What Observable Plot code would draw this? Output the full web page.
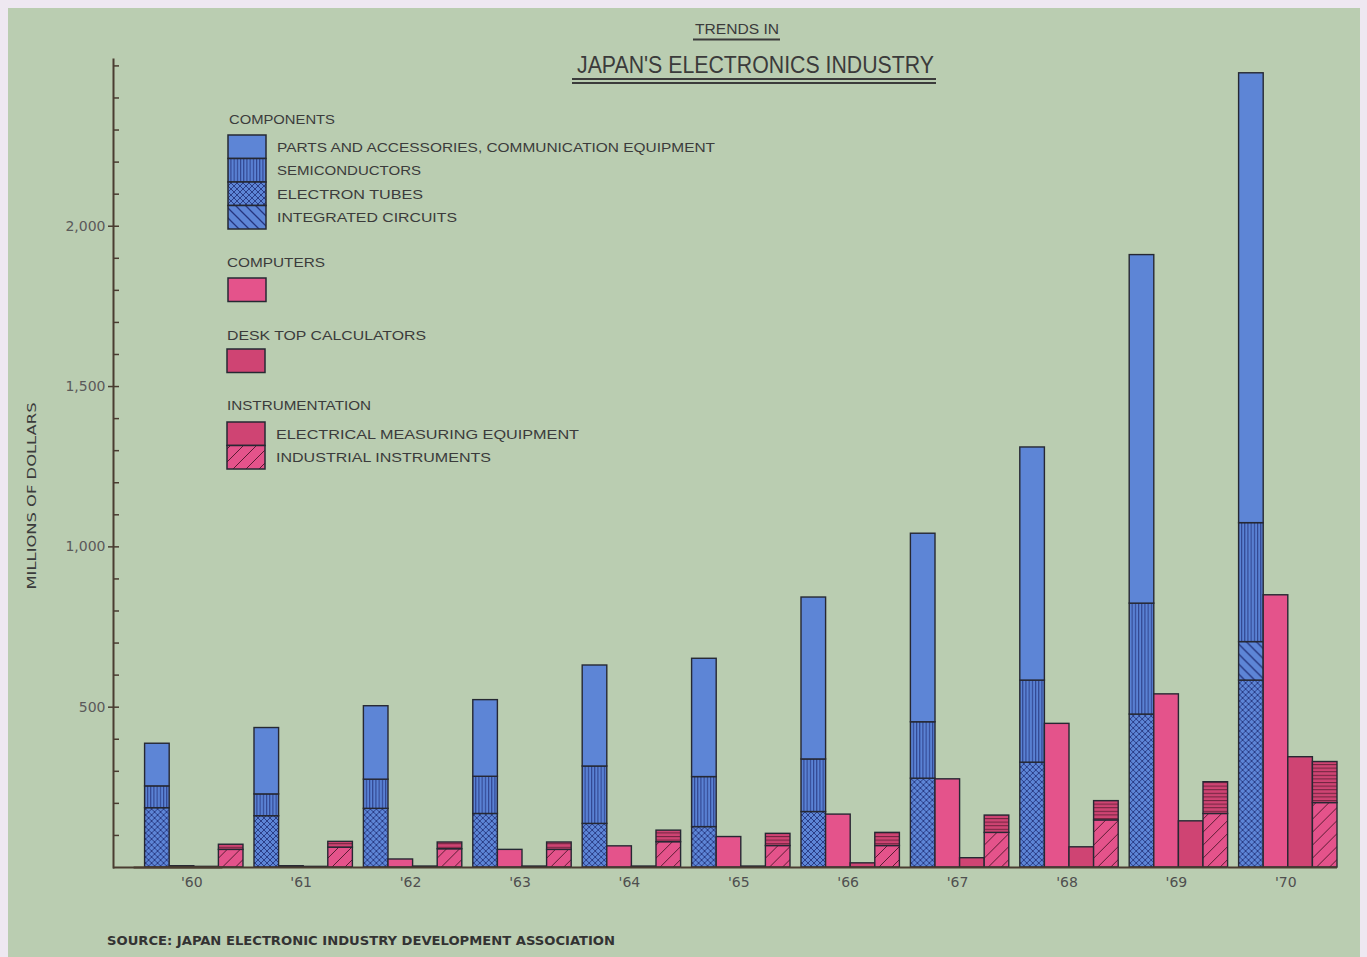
<!DOCTYPE html>
<html>
<head>
<meta charset="utf-8">
<script src="https://cdn.jsdelivr.net/npm/d3@7"></script>
<script src="https://cdn.jsdelivr.net/npm/@observablehq/plot@0.6"></script>
<style>
html, body { margin: 0; padding: 0; background: #eee8f1; }
body { width: 1367px; height: 957px; position: relative; overflow: hidden; }
#panel { position: absolute; left: 8px; top: 8px; width: 1352px; height: 949px; background: #bacdb1; }
#chart { position: absolute; left: 8px; top: 8px; }
#overlay { position: absolute; left: 0; top: 0; pointer-events: none; }
</style>
</head>
<body>
<div id="panel"></div>
<div id="chart"></div>
<svg id="defs" width="0" height="0" style="position:absolute">
  <defs>
    <pattern id="pSemi" patternUnits="userSpaceOnUse" width="3.2" height="10">
      <rect width="3.2" height="10" fill="#5a82d4"/>
      <line x1="0.6" y1="0" x2="0.6" y2="10" stroke="#26357e" stroke-width="0.9"/>
    </pattern>
    <pattern id="pTube" patternUnits="userSpaceOnUse" width="6" height="6">
      <rect width="6" height="6" fill="#5d85d6"/>
      <path d="M0,0 L6,6 M6,0 L0,6" stroke="#26357e" stroke-width="0.9"/>
    </pattern>
    <pattern id="pIC" patternUnits="userSpaceOnUse" width="10" height="10">
      <rect width="10" height="10" fill="#5d85d6"/>
      <path d="M0,0 L10,10 M-2,8 L2,12 M8,-2 L12,2" stroke="#26357e" stroke-width="1.3"/>
    </pattern>
    <pattern id="pElec" patternUnits="userSpaceOnUse" width="10" height="3.6">
      <rect width="10" height="3.6" fill="#cf4473"/>
      <line x1="0" y1="0.6" x2="10" y2="0.6" stroke="#5a1c33" stroke-width="0.9"/>
    </pattern>
    <pattern id="pInd" patternUnits="userSpaceOnUse" width="13" height="13">
      <rect width="13" height="13" fill="#e4538b"/>
      <path d="M0,13 L13,0 M-3,3 L3,-3 M10,16 L16,10" stroke="#5a1c33" stroke-width="1"/>
    </pattern>
  </defs>
</svg>
<svg id="overlay" width="1367" height="957"></svg>
<script>
// ---- data (millions of dollars) ----
const years = ["'60", "'61", "'62", "'63", "'64", "'65", "'66", "'67", "'68", "'69", "'70"];
const electronTubes         = [185, 160, 183, 167, 136, 126, 173, 277, 327, 477, 583];
const integratedCircuits    = [0, 0, 0, 0, 0, 0, 0, 0, 0, 0, 120];
const semiconductors        = [68, 68, 91, 116, 179, 156, 164, 176, 256, 346, 371];
const partsAccessories      = [133, 207, 229, 239, 315, 369, 505, 588, 727, 1087, 1403];
const computers             = [4, 4, 25, 55, 66, 95, 165, 275, 448, 540, 849];
const deskCalculators       = [2, 2, 3, 3, 3, 3, 13, 29, 63, 144, 344];
const industrialInstruments = [55, 62, 57, 55, 79, 67, 67, 108, 147, 167, 201];
const electricalMeasuring   = [16, 18, 21, 23, 36, 38, 41, 54, 60, 99, 128];

const groups = ["components", "computers", "calculators", "instrumentation"];
const majorTicks = [500, 1000, 1500, 2000];
const minorTicks = d3.range(100, 2600, 100);

// series order = stacking order (bottom to top)
const series = [
  {name: "ELECTRON TUBES", group: "components", values: electronTubes},
  {name: "INTEGRATED CIRCUITS", group: "components", values: integratedCircuits},
  {name: "SEMICONDUCTORS", group: "components", values: semiconductors},
  {name: "PARTS AND ACCESSORIES, COMMUNICATION EQUIPMENT", group: "components", values: partsAccessories},
  {name: "COMPUTERS", group: "computers", values: computers},
  {name: "DESK TOP CALCULATORS", group: "calculators", values: deskCalculators},
  {name: "INDUSTRIAL INSTRUMENTS", group: "instrumentation", values: industrialInstruments},
  {name: "ELECTRICAL MEASURING EQUIPMENT", group: "instrumentation", values: electricalMeasuring}
];

const fills = {
  "ELECTRON TUBES": "url(#pTube)",
  "INTEGRATED CIRCUITS": "url(#pIC)",
  "SEMICONDUCTORS": "url(#pSemi)",
  "PARTS AND ACCESSORIES, COMMUNICATION EQUIPMENT": "#5d85d6",
  "COMPUTERS": "#e4538b",
  "DESK TOP CALCULATORS": "#cf4473",
  "INDUSTRIAL INSTRUMENTS": "url(#pInd)",
  "ELECTRICAL MEASURING EQUIPMENT": "url(#pElec)"
};

const rows = [];
years.forEach((year, i) => {
  for (const s of series) {
    const v = s.values[i];
    if (v > 0) rows.push({year, group: s.group, series: s.name, value: v});
  }
});

// facet band layout: fx band with outer padding all on the left
const W = 1352, ML = 105, MR = 23;
const FX_PAD_OUTER = 0.0941;
const frameW = W - ML - MR;
const fxStep = frameW / (years.length + 2 * FX_PAD_OUTER);
const axisShift = -(frameW - fxStep * years.length); // from first facet's left edge back to the frame edge

const AXIS = "#4a3d31";
const chart = Plot.plot({
  width: W,
  height: 899,
  marginLeft: ML,
  marginRight: MR,
  marginTop: 51,
  marginBottom: 40,
  style: {background: "transparent", overflow: "visible", fontFamily: "DejaVu Sans, sans-serif", fontSize: "14px", color: "#585858"},
  fx: {domain: years, paddingInner: 0, paddingOuter: FX_PAD_OUTER, align: 1, round: false},
  x: {domain: groups, paddingInner: 0, paddingOuter: 0.2236, align: 1, round: false, axis: null},
  y: {domain: [0, 2520]},
  color: {type: "identity"},
  marks: [
    Plot.barY(rows, {fx: "year", x: "group", y: "value", fill: d => fills[d.series], stroke: "#262833", strokeWidth: 1.4}),
    Plot.ruleY([0], {stroke: AXIS, strokeWidth: 2}),
    Plot.ruleY([0], {facetAnchor: "left", dx: axisShift, stroke: AXIS, strokeWidth: 2}),
    Plot.frame({facetAnchor: "left", anchor: "left", dx: axisShift, stroke: AXIS, strokeWidth: 2}),
    Plot.axisY({ticks: minorTicks, tickSize: -6, tickFormat: () => "", label: null, stroke: AXIS, strokeWidth: 1.5, dx: axisShift}),
    Plot.axisY({ticks: majorTicks, tickSize: 5, tickPadding: 3, tickFormat: d3.format(","), label: null, stroke: AXIS, strokeWidth: 1.5, fill: "#5a5a5a", dx: axisShift}),
    Plot.axisFx({anchor: "bottom", tickSize: 0, tickPadding: 10, label: null, dx: 3, fill: "#4f4f4f"})
  ]
});
document.getElementById("chart").appendChild(chart);

// ---- overlay: title, legend, axis label, source ----
const ov = d3.select("#overlay");
const TXT = "#3b3b3b";
const font = "Liberation Sans, Arial, sans-serif";

function text(x, y, s, size, len, opts = {}) {
  const t = ov.append("text").attr("x", x).attr("y", y).text(s)
    .attr("font-family", opts.family || font).attr("font-size", size)
    .attr("fill", opts.fill || TXT).attr("text-anchor", opts.anchor || "start");
  if (opts.weight) t.attr("font-weight", opts.weight);
  if (len) t.attr("textLength", len).attr("lengthAdjust", "spacingAndGlyphs");
  if (opts.transform) t.attr("transform", opts.transform);
  return t;
}

// title
text(737, 34, "TRENDS IN", 14, 84, {anchor: "middle"});
ov.append("line").attr("x1", 693).attr("x2", 780).attr("y1", 39.5).attr("y2", 39.5).attr("stroke", "#3b3b3b").attr("stroke-width", 1.8);
text(755.5, 73, "JAPAN'S ELECTRONICS INDUSTRY", 24, 357, {anchor: "middle"});
ov.append("line").attr("x1", 572).attr("x2", 936).attr("y1", 79).attr("y2", 79).attr("stroke", "#3b3b3b").attr("stroke-width", 1.8);
ov.append("line").attr("x1", 572).attr("x2", 936).attr("y1", 83).attr("y2", 83).attr("stroke", "#3b3b3b").attr("stroke-width", 1.8);

// legend
const legend = [
  {title: "COMPONENTS", tx: 229, ty: 124, tlen: 106, sx: 228, sy: 135, items: [
    {name: "PARTS AND ACCESSORIES, COMMUNICATION EQUIPMENT", fill: fills["PARTS AND ACCESSORIES, COMMUNICATION EQUIPMENT"], len: 438},
    {name: "SEMICONDUCTORS", fill: fills["SEMICONDUCTORS"], len: 144},
    {name: "ELECTRON TUBES", fill: fills["ELECTRON TUBES"], len: 146},
    {name: "INTEGRATED CIRCUITS", fill: fills["INTEGRATED CIRCUITS"], len: 180}
  ]},
  {title: "COMPUTERS", tx: 227, ty: 267, tlen: 98, sx: 228, sy: 278, items: [
    {name: "", fill: fills["COMPUTERS"]}
  ]},
  {title: "DESK TOP CALCULATORS", tx: 227, ty: 340, tlen: 199, sx: 227, sy: 349, items: [
    {name: "", fill: fills["DESK TOP CALCULATORS"]}
  ]},
  {title: "INSTRUMENTATION", tx: 227, ty: 410, tlen: 144, sx: 227, sy: 422, items: [
    {name: "ELECTRICAL MEASURING EQUIPMENT", fill: "#cf4473", len: 303},
    {name: "INDUSTRIAL INSTRUMENTS", fill: fills["INDUSTRIAL INSTRUMENTS"], len: 215}
  ]}
];
const cellH = 23.5, cellW = 38;
for (const g of legend) {
  text(g.tx, g.ty, g.title, 13.5, g.tlen);
  g.items.forEach((it, k) => {
    ov.append("rect").attr("x", g.sx).attr("y", g.sy + k * cellH).attr("width", cellW).attr("height", cellH)
      .attr("fill", it.fill).attr("stroke", "#262833").attr("stroke-width", 1.5);
    if (it.name) text(g.sx + 49, g.sy + k * cellH + cellH / 2 + 5, it.name, 13.5, it.len);
  });
}

// y axis label
text(0, 0, "MILLIONS OF DOLLARS", 13, 187, {anchor: "middle", family: "DejaVu Sans Condensed, DejaVu Sans, sans-serif", transform: "translate(36,496) rotate(-90)"});

// source
text(107, 944.5, "SOURCE: JAPAN ELECTRONIC INDUSTRY DEVELOPMENT ASSOCIATION", 12.5, 508, {family: "DejaVu Sans Condensed, DejaVu Sans, sans-serif", weight: "bold", fill: "#333"});
</script>
</body>
</html>
